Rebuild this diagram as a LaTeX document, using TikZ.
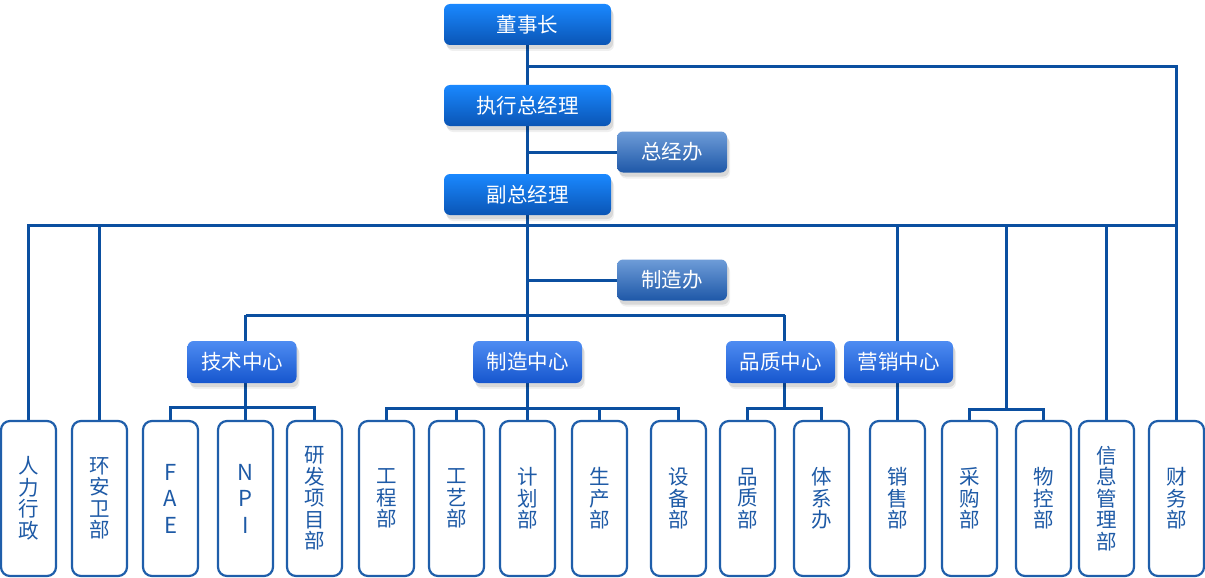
\documentclass[tikz,border=0pt]{standalone}
\usepackage{fontspec}
\newfontfamily\cjk{Noto Sans CJK SC}
\usetikzlibrary{shadows,backgrounds}
\definecolor{linec}{HTML}{0B4FA0}
\definecolor{topA}{HTML}{1A88FF}
\definecolor{topB}{HTML}{0A55B5}
\definecolor{offA}{HTML}{6E9CD8}
\definecolor{offB}{HTML}{1E58A8}
\definecolor{midA}{HTML}{4E8CF2}
\definecolor{midB}{HTML}{1656CE}
\definecolor{leafc}{HTML}{1F5EAA}
\definecolor{leaft}{HTML}{1E5AA6}
\tikzset{
  softshadow/.style={drop shadow={shadow xshift=2pt,shadow yshift=-4pt,opacity=.10,fill=black},
                     drop shadow={shadow xshift=3pt,shadow yshift=-6pt,opacity=.06,fill=black}},
  bluebox/.style={rounded corners=6pt, draw=none, text=white, inner sep=0pt,
     font=\cjk\fontsize{20.5}{24}\selectfont, softshadow},
  topbox/.style={bluebox, top color=topA, bottom color=topB, minimum width=167pt, minimum height=41pt},
  offbox/.style={bluebox, top color=offA, bottom color=offB, minimum width=110pt, minimum height=41pt},
  midbox/.style={bluebox, top color=midA, bottom color=midB, minimum width=109pt, minimum height=42pt},
  leaf/.style={draw=leafc, line width=2.2pt, fill=white, rounded corners=9pt, minimum width=55pt,
     minimum height=155pt, text=leaft, align=center, inner sep=0pt,
     font=\cjk\fontsize{20.5}{21.5}\selectfont},
  latin/.style={font=\cjk\fontsize{22}{26.5}\selectfont},
  conn/.style={draw=linec, line width=3pt}
}
\begin{document}
\begin{tikzpicture}[x=1pt,y=-1pt]
\useasboundingbox (0,0) rectangle (1205,578);
% top
\node[topbox] (dsz)  at (527.5,24.5)  {董事长};
\node[topbox] (zjl)  at (527.5,105.5) {执行总经理};
\node[topbox] (fzjl) at (527.5,194.5) {副总经理};
\node[offbox] (zjb)  at (672,152)     {总经办};
\node[offbox] (zzb)  at (672,280)     {制造办};
% middle
\node[midbox] (jszx) at (242,362)   {技术中心};
\node[midbox] (zzzx) at (527.5,362) {制造中心};
\node[midbox] (pzzx) at (780.5,362) {品质中心};
\node[midbox] (yxzx) at (898.5,362) {营销中心};
% leaves
\node[leaf] (hr)  at (28.5,498.5)   {人\\力\\行\\政};
\node[leaf] (hse) at (99.5,498.5)   {环\\安\\卫\\部};
\node[leaf,latin] (fae) at (170.5,498.5) {F\\A\\E};
\node[leaf,latin] (npi) at (245.5,498.5) {N\\P\\I};
\node[leaf] (yf)  at (314.5,498.5)  {研\\发\\项\\目\\部};
\node[leaf] (gc)  at (386.5,498.5)  {工\\程\\部};
\node[leaf] (gy)  at (456.5,498.5)  {工\\艺\\部};
\node[leaf] (jh)  at (527.5,498.5)  {计\\划\\部};
\node[leaf] (sc)  at (599.5,498.5)  {生\\产\\部};
\node[leaf] (sb)  at (678.5,498.5)  {设\\备\\部};
\node[leaf] (pz)  at (747.5,498.5)  {品\\质\\部};
\node[leaf] (tx)  at (821.5,498.5)  {体\\系\\办};
\node[leaf] (xs)  at (897.5,498.5)  {销\\售\\部};
\node[leaf] (cg)  at (969.5,498.5)  {采\\购\\部};
\node[leaf] (wk)  at (1043.5,498.5) {物\\控\\部};
\node[leaf] (xx)  at (1106.5,498.5) {信\\息\\管\\理\\部};
\node[leaf] (cw)  at (1176.5,498.5) {财\\务\\部};
% junctions
\coordinate (c67) at (527.5,67);
\coordinate (bus) at (0,225);
\coordinate (l3)  at (0,315);
\coordinate (tb)  at (245.5,407);
\coordinate (mb)  at (527.5,408.5);
\coordinate (qb)  at (784.5,408);
\coordinate (pb)  at (1006.5,409);
\begin{scope}[on background layer]
\draw[conn] (dsz) -- (zjl);
\draw[conn] (zjl) -- (fzjl);
\draw[conn] (fzjl) -- (zzzx);
\draw[conn] (c67) -| (cw.north);
\draw[conn] (zjl.south |- zjb.west) -- (zjb.west);
\draw[conn] (zzzx.north |- zzb.west) -- (zzb.west);
% bus
\draw[conn] (hr.north) -- (hr.north |- bus) -- (cw.north |- bus);
\draw[conn] (hse.north) -- (hse.north |- bus);
\draw[conn] (xs.north) -- (xs.north |- bus);
\draw[conn] (xx.north) -- (xx.north |- bus);
\draw[conn] (pb) -- (pb |- bus);
\draw[conn] (cg.north) |- (pb) -| (wk.north);
% level 3
\draw[conn] (npi.north |- l3) -- (qb |- l3);
\draw[conn] (npi.north) -- (npi.north |- l3);
\draw[conn] (qb) -- (qb |- l3);
% tech
\draw[conn] (fae.north) |- (tb) -| (yf.north);
% manufacturing
\draw[conn] (zzzx) -- (jh);
\draw[conn] (gc.north) |- (mb) -| (sb.north);
\draw[conn] (gy.north) -- (gy.north |- mb);
\draw[conn] (sc.north) -- (sc.north |- mb);
% quality
\draw[conn] (pz.north) |- (qb) -| (tx.north);
\end{scope}
\end{tikzpicture}
\end{document}
